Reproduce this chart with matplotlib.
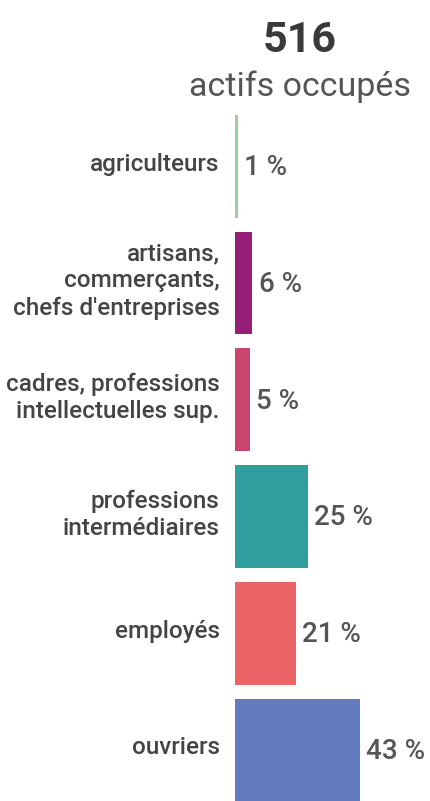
import matplotlib.pyplot as plt

# data
categories = ["agriculteurs",
              "artisans,\ncommerçants,\nchefs d'entreprises",
              "cadres, professions\nintellectuelles sup.",
              "professions\nintermédiaires",
              "employés",
              "ouvriers"]
shares = [1, 6, 5, 25, 21, 43]
colors = ["#9ccf9c", "#951f78", "#c9466f", "#2f9e9c", "#ec6566", "#637bbd"]
total_label = "516"
subtitle = "actifs occupés"

plt.rcParams['font.family'] = ['Roboto', 'DejaVu Sans']

W, H = 430, 801
fig = plt.figure(figsize=(W / 100, H / 100), dpi=100)
fig.patch.set_facecolor("white")

# axes: x starts at pixel 235, 2.9 px per %
x0 = 235
px_per_pct = 2.9
top_px, bot_px = 108, 801
ax = fig.add_axes([x0 / W, 1 - bot_px / H, (W - x0) / W, (bot_px - top_px) / H])
ax.set_xlim(0, (W - x0) / px_per_pct)
ax.set_ylim(5.437, -0.5)
ax.axis("off")

y = range(len(categories))
ax.barh(y, shares, height=0.88, color=colors, edgecolor="none")

for i, (cat, v) in enumerate(zip(categories, shares)):
    ax.annotate(cat, xy=(0, i), xytext=(-11, 1.5), textcoords="offset points",
                ha="right", va="center", fontsize=17.5, color="#444444",
                fontweight="medium", linespacing=1.22, annotation_clip=False)
    ax.annotate(f"{v} %", xy=(v, i), xytext=(4.5, -1), textcoords="offset points",
                ha="left", va="center", fontsize=20, color="#555555",
                fontweight="medium", annotation_clip=False)

fig.text(300 / W, 1 - 52 / H, total_label, ha="center", va="baseline",
         fontsize=31, fontweight="bold", color="#3a3a3a")
fig.text(300 / W, 1 - 96 / H, subtitle, ha="center", va="baseline",
         fontsize=24.5, color="#555555")

fig.savefig("out.png", dpi=100)
